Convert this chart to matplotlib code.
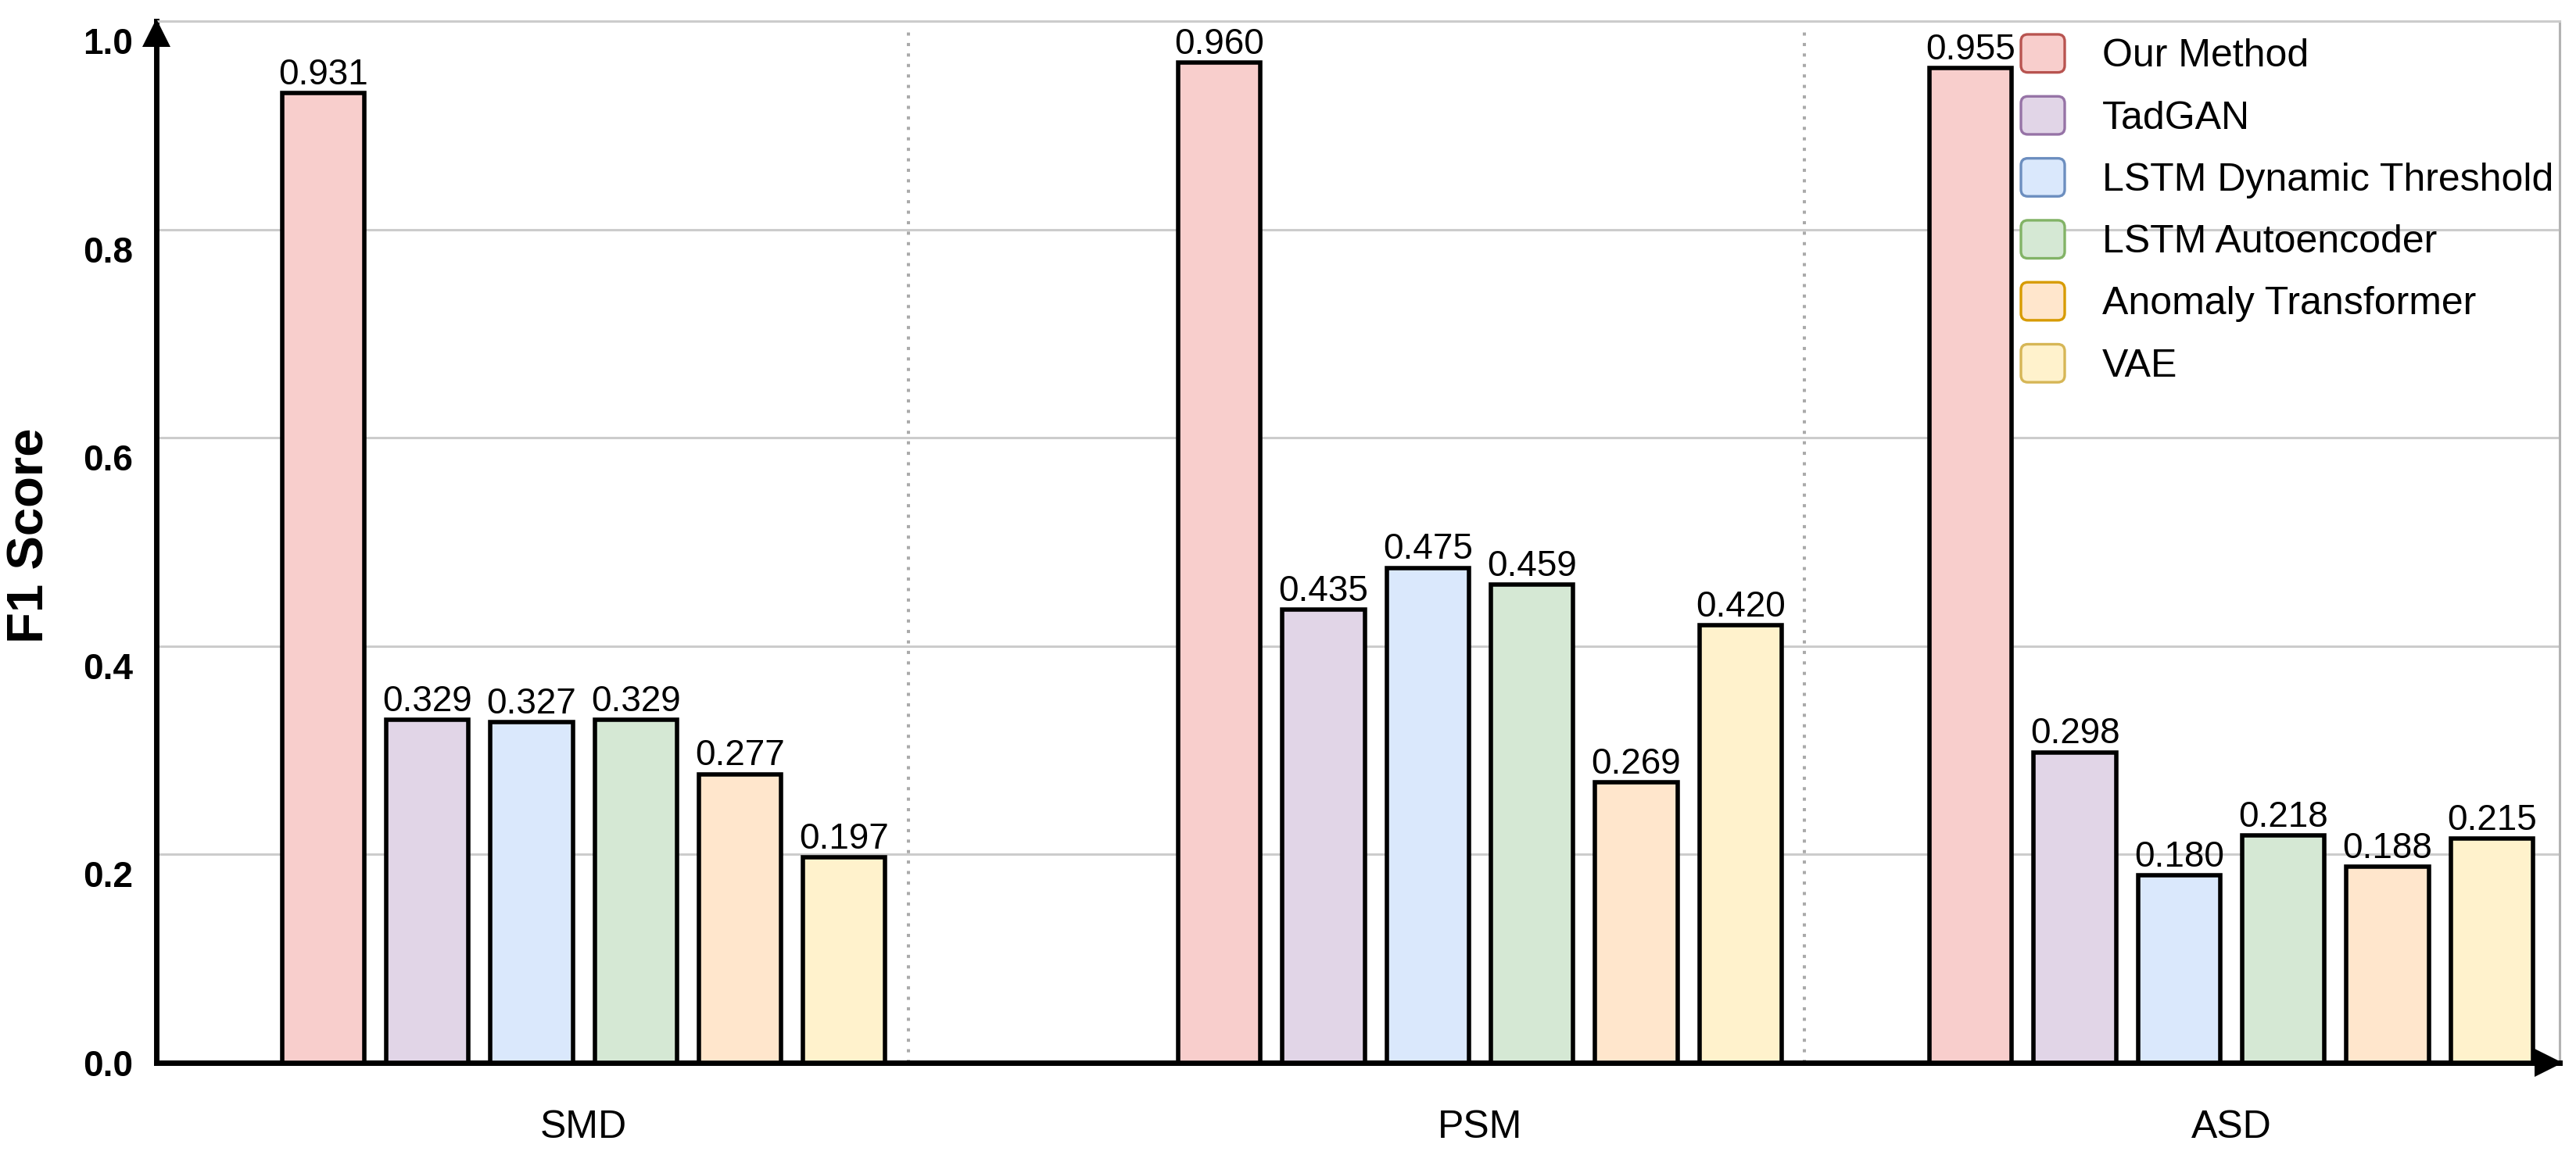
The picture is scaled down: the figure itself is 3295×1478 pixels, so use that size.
import matplotlib
matplotlib.use('Agg')
import matplotlib.pyplot as plt
from matplotlib.patches import Patch, FancyBboxPatch
from matplotlib.legend_handler import HandlerPatch
from matplotlib.transforms import ScaledTranslation

plt.rcParams['font.family'] = ['Liberation Sans', 'DejaVu Sans']

# data
datasets = ['SMD', 'PSM', 'ASD']
methods = ['Our Method', 'TadGAN', 'LSTM Dynamic Threshold',
           'LSTM Autoencoder', 'Anomaly Transformer', 'VAE']
smd_scores = [0.931, 0.329, 0.327, 0.329, 0.277, 0.197]
psm_scores = [0.960, 0.435, 0.475, 0.459, 0.269, 0.420]
asd_scores = [0.955, 0.298, 0.180, 0.218, 0.188, 0.215]
y_ticks = [0.0, 0.2, 0.4, 0.6, 0.8, 1.0]

# draw.io style colours (fill / stroke)
fills = ['#f8cecc', '#e1d5e7', '#dae8fc', '#d5e8d4', '#ffe6cc', '#fff2cc']
strokes = ['#b85450', '#9673a6', '#6c8ebf', '#82b366', '#d79b00', '#d6b656']

# layout (x in bar-slot units)
group_centers = [4.10, 12.70, 19.91]
separators = [7.22, 15.81]
bar_width = 0.79

fig = plt.figure(figsize=(32.95, 14.78), dpi=100)
ax = fig.add_axes([200 / 3295, 1 - 1360 / 1478, 3074 / 3295, 1333 / 1478])

scores = [smd_scores, psm_scores, asd_scores]
for i, method in enumerate(methods):
    xs = [c + (i - 2.5) for c in group_centers]
    vals = [s[i] for s in scores]
    bars = ax.bar(xs, vals, bar_width, color=fills[i], edgecolor='black',
                  linewidth=4, zorder=3)
    ax.bar_label(bars, labels=[f'{v:.3f}' for v in vals], padding=1,
                 fontsize=33, zorder=4)

ax.set_xlim(0, 23.06)
ax.set_ylim(0, 1.0)

# grid and separators
ax.yaxis.grid(True, color='#cccccc', linewidth=2.2, zorder=0)
ax.set_axisbelow(True)
ax.vlines(separators, 0, 0.992, colors='#aaaaaa', linestyles=(0, (1, 2.33)),
          linewidth=2.9, zorder=1)

# spines
for side in ['left', 'bottom']:
    ax.spines[side].set_linewidth(5)
    ax.spines[side].set_color('black')
ax.spines['right'].set_color('#b3b3b3')
ax.spines['right'].set_linewidth(2.2)
ax.spines['top'].set_color('#cccccc')
ax.spines['top'].set_linewidth(2.2)

# arrow heads
ax.plot([0], [0.9887], marker='^', ms=26, color='black', mew=0,
        transform=ax.get_yaxis_transform(), clip_on=False, zorder=6)
ax.plot([0.9956], [0], marker='>', ms=26, color='black', mew=0,
        transform=ax.transAxes, clip_on=False, zorder=6)

# ticks
ax.set_yticks(y_ticks, labels=[f'{t:.1f}' for t in y_ticks],
              fontsize=33, fontweight='bold')
ax.tick_params(axis='y', length=0, pad=21.6)
for lab in ax.get_yticklabels()[1:]:
    lab.set_transform(lab.get_transform() +
                      ScaledTranslation(0, -25 / 100, fig.dpi_scale_trans))
ax.set_xticks(group_centers, labels=datasets, fontsize=36)
ax.tick_params(axis='x', length=0, pad=43)

fig.text(38 / 3295, 1 - 685 / 1478, 'F1 Score', rotation=90, ha='center',
         va='center', fontsize=47, fontweight='bold')


# legend with rounded swatches
def rounded_box(legend, orig_handle, xdescent, ydescent, width, height, fontsize):
    return FancyBboxPatch((-xdescent, -ydescent), width, height,
                          boxstyle=f'round,pad=0,rounding_size={0.18 * height}')


handles = [Patch(facecolor=f, edgecolor=e, linewidth=2.4, label=m)
           for f, e, m in zip(fills, strokes, methods)]
fig.legend(handles=handles, loc='upper left',
           bbox_to_anchor=(2585 / 3295, 1 - 44 / 1478), frameon=False,
           fontsize=36, handlelength=1.12, handleheight=1.12, handletextpad=0.96,
           labelspacing=0.56, borderpad=0, borderaxespad=0,
           handler_map={Patch: HandlerPatch(patch_func=rounded_box)})

plt.savefig('out.png', dpi=100)
